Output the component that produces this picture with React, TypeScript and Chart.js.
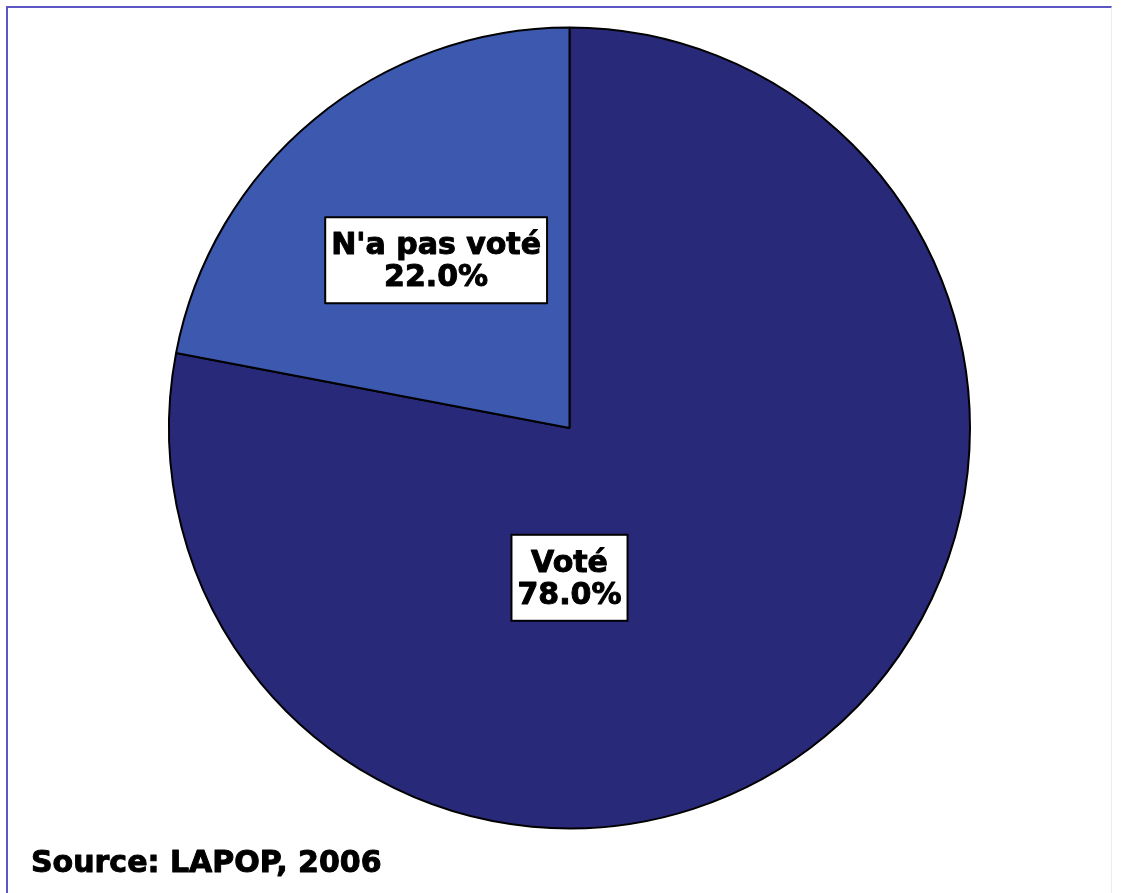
import React, { useEffect, useRef } from "react";
import { Chart, registerables } from "chart.js";

Chart.register(...registerables);

const categories = ["Voté", "N'a pas voté"];
const values = [78.0, 22.0];
const valueLabels = ["78.0%", "22.0%"];
const sliceColors = ["#29297A", "#3D59AF"];
// label box centre, as fraction of the radius, relative to the pie centre
const labelOffsets = [
  [0, 0.374],
  [-0.333, -0.419],
];
const sourceText = "Source: LAPOP, 2006";

const FONT = "bold 30px 'DejaVu Sans', 'Liberation Sans', Arial, sans-serif";

function heavyText(ctx: CanvasRenderingContext2D, t: string, x: number, y: number) {
  ctx.fillText(t, x, y);
  ctx.lineWidth = 1;
  ctx.strokeStyle = "#000000";
  ctx.lineJoin = "round";
  ctx.strokeText(t, x, y);
}

const labelPlugin = {
  id: "boxLabels",
  afterDraw(chart: any) {
    const ctx = chart.ctx;
    const meta = chart.getDatasetMeta(0);
    ctx.save();
    ctx.font = FONT;
    meta.data.forEach((arc: any, i: number) => {
      const cx = arc.x + labelOffsets[i][0] * arc.outerRadius;
      const cy = arc.y + labelOffsets[i][1] * arc.outerRadius;
      const lines = [categories[i], valueLabels[i]];
      const w = Math.max(...lines.map((l) => ctx.measureText(l).width)) + 12;
      const h = 86;
      ctx.fillStyle = "#ffffff";
      ctx.fillRect(cx - w / 2, cy - h / 2, w, h);
      ctx.lineWidth = 2;
      ctx.strokeStyle = "#000000";
      ctx.strokeRect(cx - w / 2, cy - h / 2, w, h);
      ctx.fillStyle = "#000000";
      ctx.textAlign = "center";
      ctx.textBaseline = "alphabetic";
      heavyText(ctx, lines[0], cx, cy - 6);
      heavyText(ctx, lines[1], cx, cy + 26);
    });
    ctx.textAlign = "left";
    ctx.fillStyle = "#000000";
    heavyText(ctx, sourceText, 31, 872);
    ctx.restore();
  },
};

export default function App() {
  const canvasRef = useRef<HTMLCanvasElement>(null);

  useEffect(() => {
    if (!canvasRef.current) return;
    const chart = new Chart(canvasRef.current, {
      type: "pie",
      data: {
        labels: categories,
        datasets: [
          {
            data: values,
            backgroundColor: sliceColors,
            borderColor: "#000000",
            borderWidth: 2,
          },
        ],
      },
      options: {
        animation: false,
        responsive: false,
        rotation: 0,
        layout: { padding: { left: 168, top: 26, right: 154, bottom: 63 } },
        plugins: {
          legend: { display: false },
          tooltip: { enabled: false },
        },
      },
      plugins: [labelPlugin],
    });
    return () => chart.destroy();
  }, []);

  return (
    <div
      style={{
        position: "absolute",
        left: 0,
        top: 0,
        width: 1125,
        height: 893,
        background: "#ffffff",
        overflow: "hidden",
      }}
    >
      <div
        style={{
          position: "absolute",
          left: 6,
          top: 6,
          width: 1106,
          height: 887,
          borderTop: "2px solid #5B56C4",
          borderLeft: "2px solid #5B56C4",
          borderRight: "1px solid #ECECF6",
          boxSizing: "border-box",
        }}
      />
      <canvas
        ref={canvasRef}
        width={1125}
        height={893}
        style={{ position: "absolute", left: 0, top: 0, width: 1125, height: 893 }}
      />
    </div>
  );
}
